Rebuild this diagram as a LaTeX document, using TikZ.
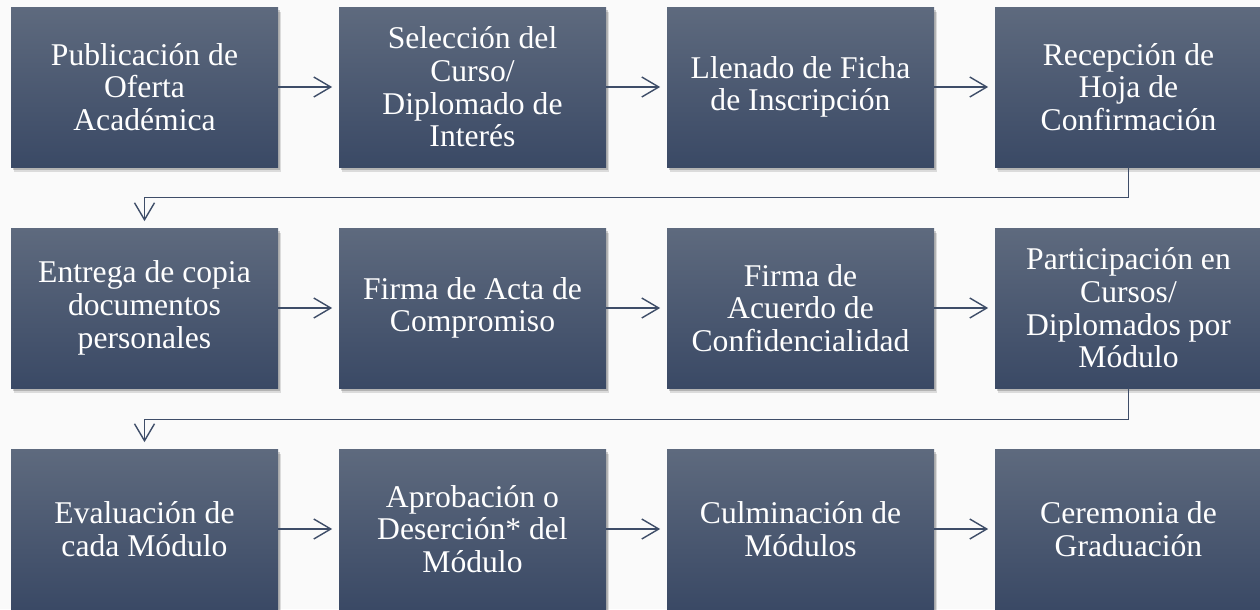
\documentclass[tikz,border=0pt]{standalone}
\usepackage{fontspec}
\setmainfont{Liberation Serif}
\usepackage{xcolor}
\usetikzlibrary{arrows.meta, positioning, shadows}

\definecolor{boxtop}{RGB}{94,106,126}
\definecolor{boxbottom}{RGB}{58,73,101}
\definecolor{linecol}{RGB}{62,77,104}
\definecolor{paper}{RGB}{250,250,250}

\tikzset{
    stepbox/.style={minimum width=5.34cm, minimum height=3.2cm, inner sep=0pt,
        top color=boxtop, bottom color=boxbottom, text=white, align=center,
        font=\fontsize{18}{18.6}\selectfont,
        drop shadow={shadow xshift=0.06cm, shadow yshift=-0.1cm, opacity=0.12, fill=black},
        drop shadow={shadow xshift=0.03cm, shadow yshift=-0.05cm, opacity=0.18, fill=black}},
    flow/.style={draw=linecol, line width=0.8pt,
        -{Straight Barb[length=0.34cm, width=0.4cm]}, shorten >=0.13cm}
}

\begin{document}
\begin{tikzpicture}

            % Settings
            \def\colpitch{6.56}
            \def\rowpitch{4.42}

            % Page
            \fill[paper] (0,0) rectangle (25.2,-12.18);
            \useasboundingbox (0,0) rectangle (25.2,-12.18);

            % Process steps, four per row
            \foreach \i/\label in {1/{Publicación de\\Oferta\\Académica},
                    2/{Selección del\\Curso/\\Diplomado de\\Interés},
                    3/{Llenado de Ficha\\de Inscripción},
                    4/{Recepción de\\Hoja de\\Confirmación},
                    5/{Entrega de copia\\documentos\\personales},
                    6/{Firma de Acta de\\Compromiso},
                    7/{Firma de\\Acuerdo de\\Confidencialidad},
                    8/{Participación en\\Cursos/\\Diplomados por\\Módulo},
                    9/{Evaluación de\\cada Módulo},
                    10/{Aprobación o\\Deserción* del\\Módulo},
                    11/{Culminación de\\Módulos},
                    12/{Ceremonia de\\Graduación}} {
                    \pgfmathtruncatemacro\col{mod(\i-1,4)}
                    \pgfmathtruncatemacro\row{div(\i-1,4)}
                    % Draw step box
                    \node[stepbox] (b\i) at (2.89 + \col*\colpitch, -1.74 - \row*\rowpitch) {\label};
                }

            % Arrows within a row
            \foreach \a/\b in {1/2, 2/3, 3/4, 5/6, 6/7, 7/8, 9/10, 10/11, 11/12} {
                    \draw[flow] (b\a) -- (b\b);
                }

            % Arrows from one row to the next
            \draw[flow] (b4.south) -- ++(0,-0.6) -| (b5.north);
            \draw[flow] (b8.south) -- ++(0,-0.62) -| (b9.north);
        \end{tikzpicture}
\end{document}
